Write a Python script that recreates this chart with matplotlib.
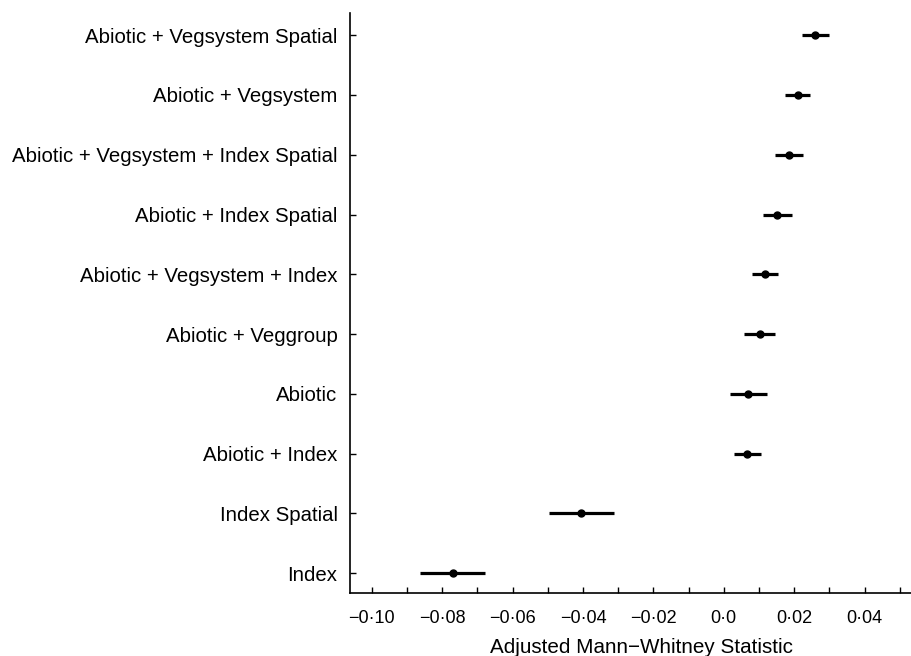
import matplotlib
matplotlib.use('Agg')
import matplotlib.pyplot as plt
import numpy as np

# models, bottom to top
models = ['Index', 'Index Spatial', 'Abiotic + Index', 'Abiotic',
          'Abiotic + Veggroup', 'Abiotic + Vegsystem + Index',
          'Abiotic + Index Spatial', 'Abiotic + Vegsystem + Index Spatial',
          'Abiotic + Vegsystem', 'Abiotic + Vegsystem Spatial']
estimate = [-0.0770, -0.0406, 0.0065, 0.0068, 0.0102, 0.0116,
            0.0151, 0.0185, 0.0210, 0.0259]
lower = [-0.0864, -0.0497, 0.0028, 0.0017, 0.0057, 0.0080,
         0.0111, 0.0145, 0.0173, 0.0222]
upper = [-0.0679, -0.0313, 0.0105, 0.0122, 0.0145, 0.0153,
         0.0193, 0.0224, 0.0244, 0.0298]

major_ticks = [-0.10, -0.08, -0.06, -0.04, -0.02, 0.0, 0.02, 0.04]
major_labels = ['\u22120\u00b710', '\u22120\u00b708', '\u22120\u00b706', '\u22120\u00b704',
                '\u22120\u00b702', '0\u00b70', '0\u00b702', '0\u00b704']
minor_ticks = [-0.09, -0.07, -0.05, -0.03, -0.01, 0.01, 0.03, 0.05]

plt.rcParams['font.family'] = ['Liberation Sans', 'DejaVu Sans']

fig = plt.figure(figsize=(9.11, 6.56), dpi=100)
ax = fig.add_axes([350 / 911, 63 / 656, 561 / 911, 580 / 656])

y = np.arange(len(models))
ax.hlines(y, lower, upper, color='black', lw=2.3)
ax.plot(estimate, y, 'o', color='black', ms=5)

ax.set_xlim(-0.1062, 0.0532)
ax.set_ylim(-0.33, 9.37)
ax.set_yticks(y)
ax.set_yticklabels(models, fontsize=14.7)
ax.set_xticks(major_ticks)
ax.set_xticklabels(major_labels, fontsize=13)
ax.set_xticks(minor_ticks, minor=True)
ax.tick_params(axis='both', which='both', direction='in', length=4, width=1)
ax.tick_params(axis='y', pad=9)
ax.tick_params(axis='x', pad=12)

for side in ['top', 'right']:
    ax.spines[side].set_visible(False)
for side in ['left', 'bottom']:
    ax.spines[side].set_linewidth(1.2)

ax.set_xlabel('Adjusted Mann\u2212Whitney Statistic', fontsize=14.9)
ax.xaxis.set_label_coords((641 - 350) / 561, -0.078)

fig.savefig('out.png', dpi=100)
